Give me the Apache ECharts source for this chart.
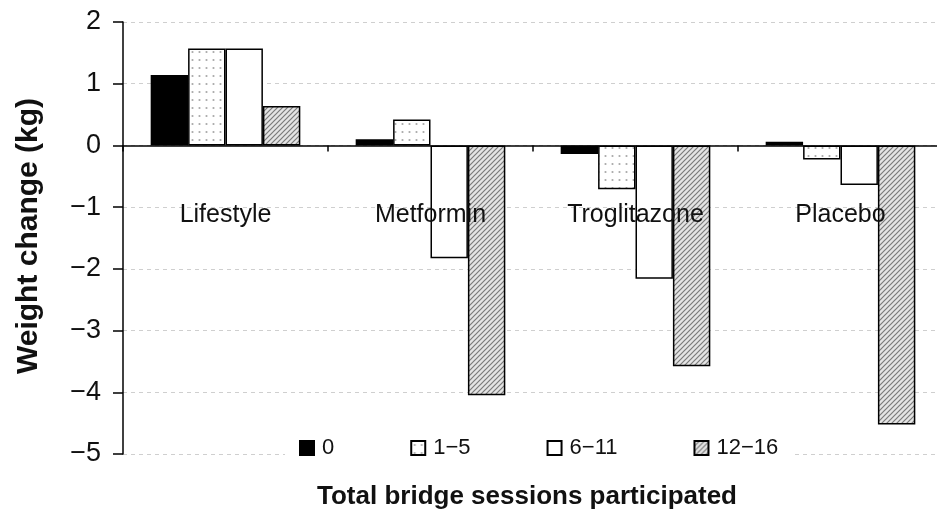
<!DOCTYPE html>
<html>
<head>
<meta charset="utf-8">
<script src="https://cdn.jsdelivr.net/npm/echarts@6/dist/echarts.min.js"></script>
<style>
  html, body { margin: 0; padding: 0; background: #fff; }
  #chart { width: 937px; height: 520px; }
</style>
</head>
<body>
<div id="chart"></div>
<script>
// Treatment groups along the category axis
const groups = ['Lifestyle', 'Metformin', 'Troglitazone', 'Placebo'];
// Session-count bands shown in the legend
const bands = ['0', '1\u22125', '6\u221211', '12\u221216'];
// Mean weight change (kg) per band, one value per group
const band0 = [1.14, 0.10, -0.14, 0.06];
const band1to5 = [1.57, 0.42, -0.71, -0.23];
const band6to11 = [1.57, -1.83, -2.16, -0.64];
const band12to16 = [0.64, -4.05, -3.58, -4.52];
// Value axis ticks
const yMin = -5, yMax = 2, yStep = 1;

const FONT = '"Liberation Sans", Arial, Helvetica, sans-serif';

function dotPattern() {
  const c = document.createElement('canvas');
  c.width = 7; c.height = 8;
  const g = c.getContext('2d');
  g.fillStyle = '#ffffff';
  g.fillRect(0, 0, 7, 8);
  g.fillStyle = '#a8a8a8';
  g.beginPath();
  g.arc(3.5, 4, 1.1, 0, Math.PI * 2);
  g.fill();
  return c;
}

function hatchPattern() {
  const s = 5;
  const c = document.createElement('canvas');
  c.width = s; c.height = s;
  const g = c.getContext('2d');
  g.fillStyle = '#e4e4e4';
  g.fillRect(0, 0, s, s);
  g.strokeStyle = '#7a7a7a';
  g.lineWidth = 1.2;
  g.beginPath();
  g.moveTo(-1, s + 1); g.lineTo(s + 1, -1);
  g.moveTo(-1, 1); g.lineTo(1, -1);
  g.moveTo(s - 1, s + 1); g.lineTo(s + 1, s - 1);
  g.stroke();
  return c;
}

const fills = [
  '#000000',
  { image: dotPattern(), repeat: 'repeat' },
  '#ffffff',
  { image: hatchPattern(), repeat: 'repeat' }
];
const values = [band0, band1to5, band6to11, band12to16];

const chart = echarts.init(document.getElementById('chart'), null, { renderer: 'canvas' });

chart.setOption({
  animation: false,
  backgroundColor: '#ffffff',
  textStyle: { fontFamily: FONT },
  grid: { left: 123, right: -6, top: 22, bottom: 66, outerBoundsMode: 'none', containLabel: false },
  legend: {
    data: bands,
    left: 285,
    top: 435,
    icon: 'rect',
    itemWidth: 14,
    itemHeight: 14,
    itemGap: 76,
    padding: [2, 14],
    backgroundColor: '#ffffff',
    textStyle: { fontFamily: FONT, fontSize: 22, color: '#111', padding: [0, 0, 0, 3] },
    selectedMode: false
  },
  xAxis: {
    type: 'category',
    data: groups,
    z: 10,
    axisLine: { onZero: true, lineStyle: { color: '#000', width: 1.5 } },
    axisTick: { show: true, length: 6, lineStyle: { color: '#000', width: 1.5 } },
    // group names sit inside the plot, just under the zero line
    axisLabel: { margin: -251, fontSize: 25, color: '#111', fontFamily: FONT, hideOverlap: false },
    splitLine: { show: false }
  },
  yAxis: {
    type: 'value',
    min: yMin,
    max: yMax,
    interval: yStep,
    axisLine: { show: true, onZero: false, lineStyle: { color: '#000', width: 1.5 } },
    axisTick: { show: true, length: 10, lineStyle: { color: '#000', width: 1.5 } },
    axisLabel: {
      margin: 22, fontSize: 27, color: '#111', fontFamily: FONT,
      formatter: v => String(v).replace('-', '\u2212')
    },
    splitLine: { show: true, lineStyle: { color: '#cfcfcf', type: [4, 4], width: 1 } }
  },
  graphic: [
    {
      type: 'text',
      x: 29, y: 236,
      rotation: Math.PI / 2,
      style: {
        text: 'Weight change (kg)',
        font: 'bold 30px ' + FONT,
        fill: '#111',
        align: 'center',
        verticalAlign: 'middle'
      }
    },
    {
      type: 'text',
      x: 527, y: 497,
      style: {
        text: 'Total bridge sessions participated',
        font: 'bold 26px ' + FONT,
        fill: '#111',
        align: 'center',
        verticalAlign: 'middle'
      }
    }
  ],
  series: bands.map((name, i) => ({
    name: name,
    type: 'bar',
    data: values[i],
    barGap: '0%',
    barCategoryGap: '27%',
    itemStyle: { color: fills[i], borderColor: '#000', borderWidth: 1.5 }
  }))
});
</script>
</body>
</html>
